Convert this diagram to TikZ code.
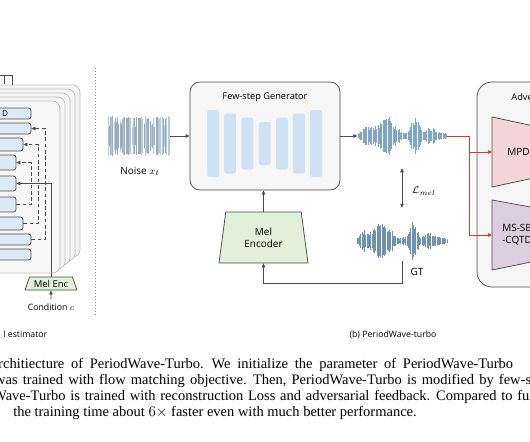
\documentclass[tikz,border=0pt]{standalone}
\usepackage{fontspec}
\setmainfont{Liberation Serif}
\setsansfont{Open Sans}
\usepackage{tikz}
\usetikzlibrary{shapes.geometric,arrows.meta}

\definecolor{linegray}{HTML}{4A4A4A}
\definecolor{boxgray}{HTML}{F6F6F6}
\definecolor{blkblue}{HTML}{DCE9F7}
\definecolor{barblue}{HTML}{CFE2F3}
\definecolor{wavblue}{HTML}{7EA6C4}
\definecolor{gtblue}{HTML}{6F92B2}
\definecolor{encgreen}{HTML}{E2EFD9}
\definecolor{mpdpink}{HTML}{F4D5D8}
\definecolor{sbpurple}{HTML}{DCCEE0}
\definecolor{advred}{HTML}{D63A2F}

\begin{document}
\begin{tikzpicture}[x=0.8pt,y=-0.8pt,
    font=\sffamily\fontsize{8}{9.6}\selectfont,
    >={Triangle[length=3.2pt,width=2.8pt]},
    arr/.style={->,draw=linegray,line width=0.6pt},
    redarr/.style={->,draw=advred,line width=0.7pt},
    skiparr/.style={->,draw=linegray,line width=0.6pt,densely dashed},
    panel/.style={draw=linegray,fill=boxgray,line width=0.6pt,rounded corners=8pt},
    card/.style={draw=black!25,fill=black!4,line width=0.6pt,rounded corners=6pt},
    blk/.style={draw=black!70,fill=blkblue,line width=0.6pt,rounded corners=2pt,inner sep=0pt,
                font=\sffamily\fontsize{6.5}{7}\selectfont},
    bar/.style={fill=barblue,rounded corners=2pt},
    wave/.style={draw=wavblue,line width=0.55pt},
    wavebox/.style={inner sep=0pt,minimum height=32pt},
    enc/.style={trapezium,trapezium stretches body,draw=linegray,fill=encgreen,line width=0.6pt,
                align=center,inner sep=1pt},
    disc/.style={draw=linegray,line width=0.6pt},
    small/.style={font=\sffamily\fontsize{7}{8.4}\selectfont},
    title/.style={font=\sffamily\fontsize{7.4}{8.8}\selectfont},
    captxt/.style={anchor=base west,inner sep=0pt,font=\rmfamily\fontsize{11.6}{13.9}\selectfont}
  ]
  \useasboundingbox (0,0) rectangle (530,442);
  \clip (0,0) rectangle (530,442);
  \fill[white] (0,0) rectangle (530,442);

  \foreach \k in {4,3,2,1}
    \draw[card] ({-40+5*\k},{101-4*\k}) rectangle ({60+5*\k},{273-4*\k});
  \draw[card,fill=black!3] (-40,101) rectangle (60,273);
  \draw[linegray,line width=0.6pt] (0,75) -- (12,75) -- (12,85) (4,75) -- (4,84);

  \node[blk,minimum width=41.6pt,minimum height=8.8pt]  (b1) at (5,113.5)  {D};
  \node[blk,minimum width=41.6pt,minimum height=8.8pt]  (b2) at (5,128.5)  {};
  \node[blk,minimum width=35.2pt,minimum height=10.4pt] (b3) at (1,144.5)  {};
  \node[blk,minimum width=29.6pt,minimum height=12pt]   (b4) at (-2.5,162.5) {};
  \node[blk,minimum width=29.6pt,minimum height=12pt]   (b5) at (-2.5,183.5) {};
  \node[blk,minimum width=29.6pt,minimum height=12pt]   (b6) at (-2.5,204.5) {};
  \node[blk,minimum width=35.2pt,minimum height=10.4pt] (b7) at (1,223.5)  {};
  \node[blk,minimum width=41.6pt,minimum height=8.8pt]  (b8) at (5,239.5)  {};
  \node[blk,minimum width=41.6pt,minimum height=8.8pt]  (b9) at (5,254.5)  {};

  \draw[skiparr] (b8.east) -- ++(14,0) |- (b2.east);
  \draw[skiparr] (b7.east) -- ++(15,0) |- (b3.east);
  \draw[skiparr] (b6.east) -- ++(15,0) |- (b4.east);

  \node[enc,font=\sffamily\fontsize{7.6}{9}\selectfont,trapezium left angle=58,trapezium right angle=58,
        minimum width=41.6pt,minimum height=10.4pt,inner sep=0pt]
       (melsm) at (51,283.5) {Mel Enc};
  \node[small] (cond) at (51,307) {Condition $c$};
  \draw[arr] (cond) -- (melsm);
  \draw[arr] (melsm.north) |- (b5.east);

  \draw[black!45,line width=0.6pt,dash pattern=on 1pt off 1.4pt] (95,68) -- (95,316);

  \node[panel,minimum width=120pt,minimum height=86.4pt] (gen) at (265,136) {};
  \node[title] (gentitle) at (265,97) {Few-step Generator};
  \foreach \i/\h in {0/67,1/60,2/52,3/43,4/52,5/60,6/67}
    \fill[bar] ({207+17.2*\i},{143.5-\h/2}) rectangle ++(12,\h);

  \pgfmathsetseed{11}
  \node[wavebox,minimum width=49.6pt] (noise) at (139,136) {};
  \foreach \x in {108,109.2,...,170} {
    \pgfmathsetmacro\r{rnd}
    \pgfmathsetmacro\h{\r>0.3 ? 17+3*rnd : 9+8*rnd}
    \pgfmathsetmacro\c{rnd>0.5 ? 100 : 70}
    \draw[wave,draw=wavblue!\c!black!60!white] (\x,{136-\h}) -- (\x,{136+\h});
  }
  \node (noiselbl) at (140,171) {Noise $x_t$};
  \draw[arr] (noise) -- (gen);

  \node[wavebox,minimum width=71.2pt] (genwave) at (402,136) {};
  \foreach \x in {358,359.25,...,447} {
    \pgfmathsetmacro\e{3+17*exp(-(\x-386)*(\x-386)/120)+15*exp(-(\x-415)*(\x-415)/30)
                       +7*exp(-(\x-367)*(\x-367)/25)+6*exp(-(\x-431)*(\x-431)/40)}
    \pgfmathsetmacro\h{min(20,\e*(0.55+0.5*rnd))}
    \draw[wave] (\x,{136-\h}) -- (\x,{136+\h});
  }
  \draw[arr] (gen) -- (genwave);

  \node[wavebox,minimum width=71.2pt] (gtwave) at (402,241) {};
  \foreach \x in {357,358.25,...,447} {
    \pgfmathsetmacro\e{3+17*exp(-(\x-382)*(\x-382)/110)+16*exp(-(\x-413)*(\x-413)/28)
                       +7*exp(-(\x-364)*(\x-364)/25)+6*exp(-(\x-430)*(\x-430)/45)}
    \pgfmathsetmacro\h{min(20,\e*(0.55+0.5*rnd))}
    \draw[wave,draw=gtblue] (\x,{241-\h}) -- (\x,{241+\h});
  }
  \node (gtlbl) at (417,272) {GT};
  \draw[<->,draw=linegray,line width=0.6pt,shorten <=9.6pt,shorten >=10.4pt] (genwave) -- (gtwave);
  \node (lmel) at (424,191) {$\mathcal{L}_{mel}$};

  \node[enc,trapezium left angle=73,trapezium right angle=73,minimum width=71.2pt,minimum height=40.8pt]
       (melenc) at (263.5,237.5) {Mel\\Encoder};
  \draw[arr] (melenc.north) -- (melenc.north |- gen.south);
  \draw[arr] (gtwave.south) -- ++(0,22) -| (melenc.south);

  \node[panel,rounded corners=12pt,minimum width=112pt,minimum height=164pt] (adv) at (547,184.5) {};
  \node[title,anchor=west] (advtitle) at (507,97) {Adversarial};
  \draw[disc,fill=mpdpink] (492,117) -- (580,136) -- (580,168) -- (492,187) -- cycle;
  \draw[disc,fill=sbpurple] (492,200) -- (580,216) -- (580,252) -- (492,270) -- cycle;
  \node[anchor=west,inner xsep=12pt] (mpd) at (492,152) {MPD};
  \node[anchor=west,inner xsep=8pt,align=left] (mssb) at (492,235) {MS-SB\\-CQTD};
  \draw[redarr] (genwave.east) -- ++(23,0) |- (mpd.west);
  \draw[redarr] (genwave.east) -- ++(23,0) |- (mssb.west);

  \node[small,anchor=base west] (lbla) at (-1,337) {l estimator};
  \node[small,anchor=base] (lblb) at (393,337) {(b) PeriodWave-turbo};

  \node[captxt] (cap1) at (-2,368) {\spaceskip=5.4pt\relax rchitiecture of PeriodWave-Turbo. We initialize the parameter of PeriodWave-Turbo};
  \node[captxt] (cap2) at (-5,384) {\spaceskip=4.1pt\relax was trained with flow matching objective. Then, PeriodWave-Turbo is modified by few-step};
  \node[captxt] (cap3) at (-7,400) {\spaceskip=3.8pt\relax Wave-Turbo is trained with reconstruction Loss and adversarial feedback. Compared to full};
  \node[captxt] (cap4) at (13,416) {the training time about $6\times$ faster even with much better performance.};
\end{tikzpicture}
\end{document}
